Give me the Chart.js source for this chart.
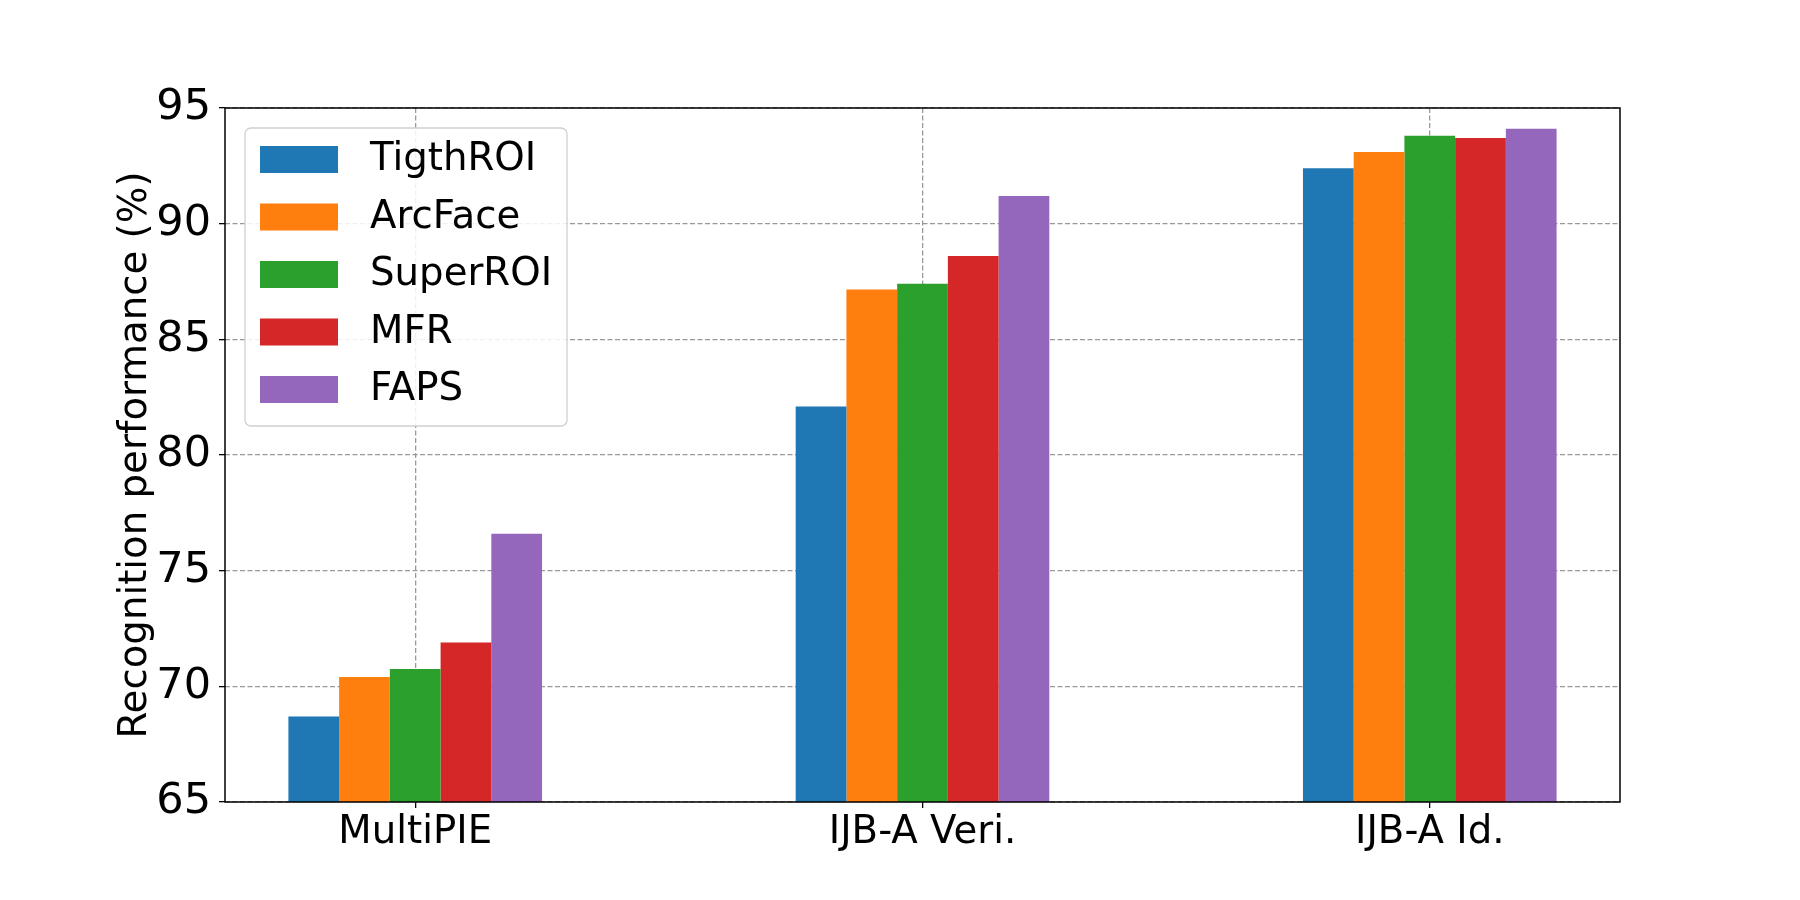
<!DOCTYPE html>
<html>
<head>
<meta charset="utf-8">
<script src="https://cdn.jsdelivr.net/npm/chart.js@4"></script>
<style>
  body { margin: 0; background: #fff; }
</style>
</head>
<body>
<canvas id="barChart" width="1800" height="900"></canvas>
<script>
// data
const categories = ["MultiPIE", "IJB-A Veri.", "IJB-A Id."];
const methods = ["TigthROI", "ArcFace", "SuperROI", "MFR", "FAPS"];
const tigthRoi = [68.7, 82.1, 92.4];
const arcFace = [70.4, 87.15, 93.1];
const superRoi = [70.75, 87.4, 93.8];
const mfr = [71.9, 88.6, 93.7];
const faps = [76.6, 91.2, 94.1];
const yTicks = [65, 70, 75, 80, 85, 90, 95];

const seriesValues = [tigthRoi, arcFace, superRoi, mfr, faps];
const colors = ["#1f77b4", "#ff7f0e", "#2ca02c", "#d62728", "#9467bd"];

Chart.defaults.font.family = "'DejaVu Sans', sans-serif";
Chart.defaults.color = "#000";

// legend box inside the plot, matplotlib style
const insideLegend = {
    id: "insideLegend",
    afterDraw(chart) {
        const ctx = chart.ctx;
        const area = chart.chartArea;
        const bx = area.left + 20, by = area.top + 20, bw = 322, bh = 298;
        ctx.save();
        ctx.fillStyle = "rgba(255,255,255,0.85)";
        ctx.strokeStyle = "#d0d0d0";
        ctx.lineWidth = 1.3;
        ctx.beginPath();
        ctx.roundRect(bx, by, bw, bh, 6);
        ctx.fill();
        ctx.stroke();
        ctx.font = "38.7px 'DejaVu Sans'";
        ctx.textBaseline = "middle";
        chart.data.datasets.forEach((ds, i) => {
            const sy = by + 18 + 57.5 * i;
            ctx.fillStyle = ds.backgroundColor;
            ctx.fillRect(bx + 15, sy, 78, 27);
            ctx.fillStyle = "#000";
            ctx.fillText(ds.label, bx + 125, sy + 14);
        });
        ctx.restore();
    }
};

// full black frame round the axes
const frame = {
    id: "frame",
    afterDatasetsDraw(chart) {
        const ctx = chart.ctx;
        const a = chart.chartArea;
        ctx.save();
        ctx.strokeStyle = "#000";
        ctx.lineWidth = 1.5;
        ctx.strokeRect(a.left, a.top, a.right - a.left, a.bottom - a.top);
        ctx.restore();
    }
};

new Chart(document.getElementById("barChart"), {
    type: "bar",
    data: {
        datasets: methods.map((m, k) => ({
            label: m,
            data: categories.map((c, i) => ({ x: i, y: seriesValues[k][i] })),
            backgroundColor: colors[k],
            borderWidth: 0,
            barPercentage: 1.0,
            categoryPercentage: 0.5
        }))
    },
    options: {
        responsive: false,
        devicePixelRatio: 1,
        animation: false,
        layout: { padding: { top: 108, right: 180, left: 0, bottom: 0 } },
        plugins: { legend: { display: false }, tooltip: { enabled: false } },
        scales: {
            x: {
                type: "linear",
                min: -0.375,
                max: 2.375,
                offset: false,
                z: 1,
                afterBuildTicks: (axis) => { axis.ticks = categories.map((c, i) => ({ value: i })); },
                afterFit: (axis) => { axis.height = 98; },
                ticks: {
                    autoSkip: false,
                    maxRotation: 0,
                    padding: 2,
                    font: { size: 38.7 },
                    callback: (v) => categories[v]
                },
                grid: {
                    offset: false,
                    color: "#999999",
                    lineWidth: 1.3,
                    tickColor: "#000",
                    tickLength: 6,
                    tickWidth: 1.3,
                    tickBorderDash: []
                },
                border: { display: false, dash: [5, 2.5] }
            },
            y: {
                min: 65,
                max: 95,
                z: 1,
                afterBuildTicks: (axis) => { axis.ticks = yTicks.map(v => ({ value: v })); },
                afterFit: (axis) => { axis.width = 225; },
                ticks: { padding: 8, font: { size: 43 } },
                grid: {
                    color: "#999999",
                    lineWidth: 1.3,
                    tickColor: "#000",
                    tickLength: 6,
                    tickWidth: 1.3,
                    tickBorderDash: []
                },
                border: { display: false, dash: [5, 2.5] },
                title: {
                    display: true,
                    text: "Recognition performance (%)",
                    font: { size: 38.7 },
                    padding: { top: 113, bottom: 0 }
                }
            }
        }
    },
    plugins: [frame, insideLegend]
});
</script>
</body>
</html>
